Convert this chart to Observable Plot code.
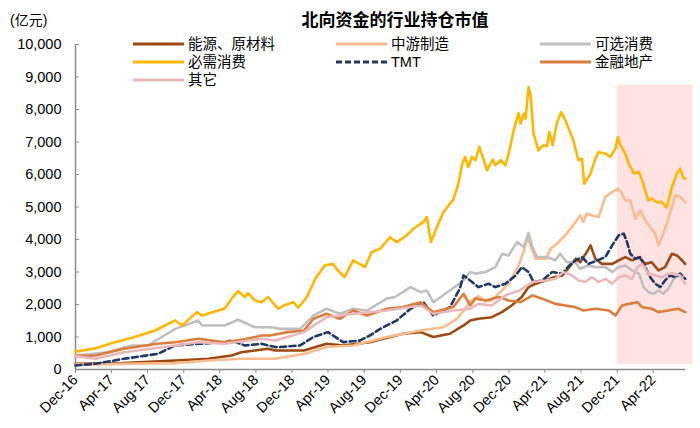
<!DOCTYPE html>
<html><head><meta charset="utf-8">
<script src="https://cdn.jsdelivr.net/npm/d3@7"></script>
<script src="https://cdn.jsdelivr.net/npm/@observablehq/plot@0.6"></script>
<style>
body{margin:0;background:#fff;}
#wrap{position:relative;width:700px;height:428px;font-family:"Liberation Sans","Noto Sans CJK SC",sans-serif;color:#000;}
#title{position:absolute;left:0;width:790px;top:6px;text-align:center;font-size:17px;font-weight:bold;}
#unit{position:absolute;left:10px;top:9px;font-size:14px;}
.lg{position:absolute;font-size:14.5px;line-height:18px;display:flex;align-items:center;white-space:nowrap;}
.lg svg{margin-right:4px;}
#chart{position:absolute;left:0;top:0;}
</style></head>
<body><div id="wrap"><div id="chart"></div><div id="title">北向资金的行业持仓市值</div><div id="unit">(亿元)</div><div id="legend"></div></div>
<script>
const energy = [["2016-12-01",175],["2017-05-09",195],["2017-11-02",275],["2018-02-22",330],["2018-05-11",430],["2018-06-13",530],["2018-07-29",585],["2018-09-11",640],["2018-10-05",585],["2019-01-10",585],["2019-03-27",790],["2019-05-22",740],["2019-08-20",840],["2019-12-10",1100],["2020-02-07",1150],["2020-03-21",1000],["2020-05-16",1100],["2020-07-01",1355],["2020-07-23",1510],["2020-08-20",1560],["2020-10-04",1610],["2020-11-07",1765],["2020-12-10",1970],["2021-01-13",2230],["2021-02-05",2535],["2021-03-01",2640],["2021-04-04",2740],["2021-05-02",2840],["2021-05-30",2895],["2021-06-22",3150],["2021-07-14",3410],["2021-07-29",3300],["2021-08-20",3610],["2021-09-02",3820],["2021-09-18",3410],["2021-10-10",3250],["2021-11-14",3250],["2021-12-06",3360],["2021-12-28",3460],["2022-01-20",3360],["2022-02-12",3460],["2022-03-05",3250],["2022-03-27",3300],["2022-04-19",3050],["2022-05-11",3150],["2022-06-03",3560],["2022-06-20",3510],["2022-07-07",3360],["2022-07-18",3250]];
const midstream = [["2016-12-01",150],["2017-11-02",195],["2018-02-22",275],["2018-06-13",330],["2018-10-05",330],["2019-01-10",480],["2019-03-27",690],["2019-06-25",740],["2019-10-16",1000],["2020-02-07",1200],["2020-04-24",1300],["2020-06-09",1560],["2020-07-11",1920],["2020-07-23",2100],["2020-08-20",2250],["2020-09-13",2100],["2020-10-04",2125],["2020-11-30",2640],["2021-01-05",3250],["2021-01-20",3660],["2021-02-02",4070],["2021-02-18",3660],["2021-03-01",3410],["2021-04-04",3410],["2021-04-21",3720],["2021-05-11",3870],["2021-06-09",4130],["2021-07-01",4380],["2021-07-29",4740],["2021-08-09",4540],["2021-08-20",4800],["2021-09-07",4740],["2021-09-29",4690],["2021-10-22",5310],["2021-11-14",5460],["2021-12-03",5570],["2021-12-17",5410],["2021-12-28",5200],["2022-01-14",5200],["2022-01-31",4640],["2022-02-17",4900],["2022-03-05",4590],["2022-03-22",4380],["2022-04-08",4180],["2022-04-19",3820],["2022-05-05",4180],["2022-05-17",4490],["2022-06-03",5000],["2022-06-15",5360],["2022-07-01",5310],["2022-07-18",5150]];
const discretionary = [["2016-12-01",430],["2017-03-19",530],["2017-06-08",740],["2017-08-03",740],["2017-09-18",1000],["2017-11-02",1250],["2018-01-19",1510],["2018-02-01",1355],["2018-04-18",1355],["2018-06-02",1530],["2018-07-29",1300],["2018-09-23",1300],["2018-10-21",1250],["2018-12-28",1250],["2019-02-11",1660],["2019-03-27",1870],["2019-05-11",1715],["2019-06-25",1870],["2019-08-10",1815],["2019-10-16",2180],["2019-11-13",2230],["2020-01-04",2535],["2020-02-07",2380],["2020-02-28",2430],["2020-03-21",2070],["2020-05-16",2430],["2020-07-01",2740],["2020-07-23",3000],["2020-08-10",2950],["2020-09-13",3000],["2020-10-16",3150],["2020-11-08",3560],["2020-11-30",3510],["2020-12-28",3920],["2021-01-20",3770],["2021-02-05",4200],["2021-02-18",3770],["2021-03-05",3460],["2021-04-08",3460],["2021-05-06",3360],["2021-05-22",3560],["2021-06-14",3300],["2021-07-12",3300],["2021-07-29",3100],["2021-08-26",3200],["2021-09-18",3150],["2021-10-22",3150],["2021-11-14",3000],["2021-12-06",3150],["2021-12-28",3200],["2022-01-20",3050],["2022-02-12",2950],["2022-02-28",2535],["2022-03-16",2380],["2022-04-02",2330],["2022-04-19",2430],["2022-05-05",2330],["2022-05-22",2480],["2022-06-09",2790],["2022-06-25",2895],["2022-07-18",2790]];
const staples = [["2016-12-01",550],["2017-02-06",650],["2017-04-13",840],["2017-06-19",1000],["2017-08-26",1200],["2017-11-02",1510],["2017-11-25",1355],["2018-01-14",1765],["2018-02-01",1660],["2018-02-22",1720],["2018-04-18",1880],["2018-05-11",2180],["2018-06-02",2410],["2018-06-25",2230],["2018-07-05",2350],["2018-07-29",2125],["2018-08-20",2070],["2018-09-11",2230],["2018-10-05",1970],["2018-10-16",1870],["2018-11-02",1970],["2018-12-06",2070],["2018-12-22",1900],["2019-01-20",2230],["2019-02-17",2790],["2019-03-21",3200],["2019-04-18",3250],["2019-04-29",3100],["2019-05-27",2840],["2019-06-25",3360],["2019-08-04",3150],["2019-08-26",3610],["2019-09-24",3720],["2019-10-27",4070],["2019-11-19",3920],["2019-12-23",4130],["2020-01-14",4330],["2020-02-17",4540],["2020-02-28",4690],["2020-03-13",3920],["2020-04-02",4380],["2020-04-24",4840],["2020-05-16",5100],["2020-05-26",5200],["2020-06-13",5700],["2020-06-26",6300],["2020-07-06",6540],["2020-07-17",6230],["2020-07-29",6540],["2020-08-10",6440],["2020-08-23",6850],["2020-09-07",6440],["2020-09-18",6130],["2020-10-07",6460],["2020-10-16",6280],["2020-11-03",6440],["2020-11-19",6280],["2020-11-30",6640],["2020-12-17",7360],["2021-01-02",7890],["2021-01-09",7570],["2021-01-20",7870],["2021-01-26",7720],["2021-02-05",8690],["2021-02-12",8440],["2021-02-22",7260],["2021-03-10",6740],["2021-03-27",6900],["2021-04-08",6870],["2021-04-16",7310],["2021-04-27",6900],["2021-05-11",7570],["2021-05-26",7920],["2021-06-09",7670],["2021-06-25",7310],["2021-07-06",7050],["2021-07-23",6440],["2021-08-04",6490],["2021-08-12",5720],["2021-09-02",6030],["2021-09-18",6490],["2021-09-29",6690],["2021-10-22",6640],["2021-11-08",6540],["2021-11-25",6800],["2021-12-03",7150],["2021-12-12",6900],["2021-12-28",6640],["2022-01-09",6330],["2022-01-26",6030],["2022-02-12",6080],["2022-02-23",5820],["2022-03-05",5510],["2022-03-16",5200],["2022-03-27",5260],["2022-04-13",5150],["2022-04-30",5150],["2022-05-17",4980],["2022-06-03",5610],["2022-06-20",6030],["2022-07-01",6180],["2022-07-10",5920],["2022-07-18",5870]];
const tmt = [["2016-12-01",125],["2017-02-06",175],["2017-05-13",330],["2017-09-04",480],["2017-11-02",740],["2018-01-19",790],["2018-04-18",840],["2018-05-11",890],["2018-06-25",740],["2018-08-20",790],["2018-10-05",690],["2018-10-21",690],["2018-12-28",740],["2019-02-11",1000],["2019-04-01",1150],["2019-05-22",840],["2019-07-17",890],["2019-08-20",1045],["2019-09-24",1250],["2019-11-19",1510],["2020-01-04",1870],["2020-02-17",2070],["2020-03-21",1660],["2020-05-16",1920],["2020-06-18",2480],["2020-07-01",2895],["2020-07-23",2740],["2020-08-20",2535],["2020-09-23",2640],["2020-10-16",2535],["2020-11-19",2640],["2020-12-24",2895],["2021-01-13",3150],["2021-02-05",3000],["2021-02-22",2690],["2021-03-23",2740],["2021-04-26",3000],["2021-05-30",2950],["2021-06-22",3200],["2021-07-14",3360],["2021-08-04",3460],["2021-08-26",3250],["2021-09-18",3330],["2021-10-22",3460],["2021-11-14",3820],["2021-12-06",4130],["2021-12-23",4180],["2022-01-03",3920],["2022-01-14",3560],["2022-01-31",3410],["2022-02-17",3460],["2022-03-05",3150],["2022-03-22",2840],["2022-04-08",2640],["2022-04-25",2535],["2022-05-11",2740],["2022-05-28",2895],["2022-06-15",2840],["2022-07-01",2950],["2022-07-18",2790]];
const finance = [["2016-12-01",420],["2017-02-06",430],["2017-05-13",640],["2017-09-04",790],["2017-11-02",840],["2018-01-19",945],["2018-04-18",840],["2018-07-02",945],["2018-08-20",1045],["2018-09-18",1045],["2018-11-15",1150],["2019-01-10",1200],["2019-02-11",1560],["2019-03-27",1715],["2019-05-11",1560],["2019-06-25",1815],["2019-08-10",1660],["2019-10-16",1870],["2019-12-10",1920],["2020-02-07",2070],["2020-03-21",1765],["2020-05-27",1920],["2020-07-01",2330],["2020-07-23",1970],["2020-08-10",2180],["2020-09-13",2125],["2020-10-28",2230],["2020-11-30",2125],["2021-01-09",2070],["2021-02-18",2280],["2021-03-23",2180],["2021-05-06",2020],["2021-06-09",1970],["2021-07-12",1920],["2021-08-09",1815],["2021-09-18",1870],["2021-11-03",1815],["2021-11-25",1660],["2021-12-17",1970],["2022-01-09",2020],["2022-02-07",2070],["2022-02-23",1920],["2022-03-27",1870],["2022-04-19",1765],["2022-05-22",1815],["2022-06-25",1870],["2022-07-18",1765]];
const others = [["2016-12-01",410],["2017-02-06",330],["2017-05-13",530],["2017-11-02",740],["2018-01-19",840],["2018-04-18",790],["2018-08-20",945],["2018-10-05",890],["2019-01-10",1150],["2019-03-27",1610],["2019-06-25",1715],["2019-10-16",1815],["2020-02-07",1970],["2020-03-21",1715],["2020-05-27",1815],["2020-07-23",1870],["2020-08-20",2020],["2020-10-04",1970],["2020-11-19",2280],["2021-01-05",2430],["2021-02-18",2690],["2021-04-04",2740],["2021-05-06",2790],["2021-06-03",3000],["2021-07-01",2895],["2021-07-24",2740],["2021-08-15",2700],["2021-09-07",2840],["2021-09-29",2690],["2021-10-22",2790],["2021-11-14",2640],["2021-12-06",2840],["2021-12-28",2895],["2022-01-20",2790],["2022-02-07",3150],["2022-02-23",3250],["2022-03-16",2950],["2022-04-08",2895],["2022-04-30",2840],["2022-05-22",2950],["2022-06-09",2950],["2022-07-01",2895],["2022-07-18",2640]];

const seriesNames = ["能源、原材料","中游制造","可选消费","必需消费","TMT","金融地产","其它"];
const seriesColors = ["#9B4A12","#F9BC8E","#BFBFBF","#FFB600","#1F3864","#DC7D3C","#E9B7BA"];
const seriesData = [energy, midstream, discretionary, staples, tmt, finance, others];
const xTickDates = ["2016-12-01","2017-04-01","2017-08-01","2017-12-01","2018-04-01","2018-08-01","2018-12-01","2019-04-01","2019-08-01","2019-12-01","2020-04-01","2020-08-01","2020-12-01","2021-04-01","2021-08-01","2021-12-01","2022-04-01"];
const yTicks = [0,1000,2000,3000,4000,5000,6000,7000,8000,9000,10000];
const shade = [{start:"2021-12-01", end:"2022-08-13", low:150, high:8750}];

const P = d3.utcParse("%Y-%m-%d");
const rows = [];
seriesData.forEach((s,i)=>s.forEach(([d,v])=>rows.push({date:P(d), value:v, name:seriesNames[i]})));
const xDomain = [P("2016-12-01"), P("2022-07-19")];
const fmtX = d3.utcFormat("%b-%y");

const marks = [
  Plot.rect(shade, {x1:d=>P(d.start), x2:d=>P(d.end), y1:"low", y2:"high", fill:"#FFE3E3", clip:false}),
  Plot.axisY({ticks:yTicks, tickFormat:d3.format(","), tickSize:-4, tickPadding:18, stroke:"#8c8c8c", fontSize:14.5, color:"#000"}),
  Plot.axisX({ticks:xTickDates.map(P), tickFormat:fmtX, tickSize:4, tickRotate:-45, tickPadding:4, stroke:"#8c8c8c", fontSize:14.5}),
  Plot.ruleY([0], {stroke:"#8c8c8c", strokeWidth:1.5}),
  Plot.ruleX([xDomain[0]], {stroke:"#8c8c8c", strokeWidth:1.5})
];
seriesNames.forEach((n,i)=>{
  marks.push(Plot.line(rows.filter(r=>r.name===n), {x:"date", y:"value", stroke:seriesColors[i], strokeWidth:2.6, strokeDasharray: n==="TMT" ? "6,3.5" : null, curve:"linear"}));
});

const chart = Plot.plot({
  width:700, height:428,
  marginLeft:75, marginRight:15, marginTop:44, marginBottom:59,
  style:{fontFamily:'"Liberation Sans","Noto Sans CJK SC",sans-serif', fontSize:"14.5px", color:"#000", background:"transparent", overflow:"visible"},
  x:{type:"utc", domain:xDomain, label:null},
  y:{domain:[0,10000], label:null},
  marks
});
document.getElementById("chart").appendChild(chart);

const legendPos = [[133,44],[336,44],[540,44],[133,62],[336,62],[540,62],[133,80]];
const legendOrder = [0,1,2,3,4,5,6];
const lg = document.getElementById("legend");
legendOrder.forEach((i,k)=>{
  const [lx,ly] = legendPos[k];
  const el = document.createElement("div");
  el.className="lg";
  el.style.left = lx+"px"; el.style.top = (ly-9)+"px";
  const dash = seriesNames[i]==="TMT" ? ' stroke-dasharray="6,3"' : '';
  el.innerHTML = `<svg width="51" height="6"><line x1="0" y1="3" x2="51" y2="3" stroke="${seriesColors[i]}" stroke-width="3"${dash}/></svg><span>${seriesNames[i]}</span>`;
  lg.appendChild(el);
});
</script></body></html>
